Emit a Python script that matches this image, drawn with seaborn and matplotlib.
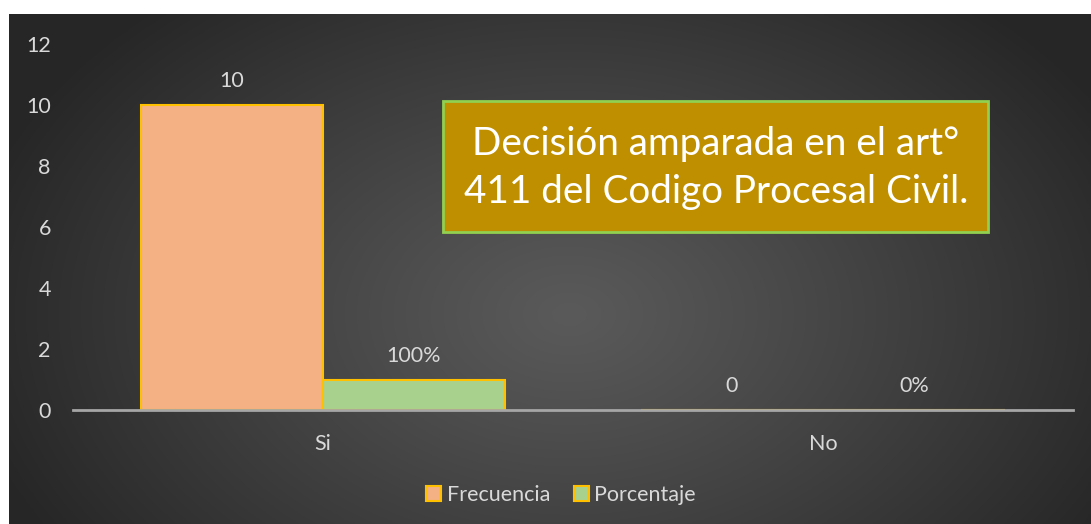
import numpy as np
import pandas as pd
import matplotlib
matplotlib.use("Agg")
import matplotlib.pyplot as plt
import seaborn as sns
from matplotlib.patches import Patch

categorias = ["Si", "No"]
frecuencia = [10, 0]
porcentaje = [1, 0]
etiquetas_frec = ["10", "0"]
etiquetas_porc = ["100%", "0%"]
series = ["Frecuencia", "Porcentaje"]
colores = ["#F4B183", "#A9D18E"]
titulo = "Decisión amparada en el art°\n411 del Codigo Procesal Civil."

sns.set_theme(style="white")
plt.rcParams['font.family'] = ['Lato', 'DejaVu Sans']

df = pd.DataFrame({
    "cat": categorias * 2,
    "valor": frecuencia + porcentaje,
    "serie": [series[0]] * 2 + [series[1]] * 2,
})

W, H = 1091, 524
fig = plt.figure(figsize=(W / 100, H / 100), dpi=100, facecolor="white")

# background with radial gradient
bg = fig.add_axes([9 / W, 0, 1 - 9 / W, 1 - 14 / H])
bg.set_axis_off()
yy, xx = np.mgrid[0:510, 0:1082]
cx, cy = 560, 300
r = np.sqrt(((xx - cx) / 620.0) ** 2 + ((yy - cy) / 420.0) ** 2)
r = np.clip(r, 0, 1)
c0, c1 = 0x5A / 255, 0x26 / 255
val = c0 + (c1 - c0) * r ** 1.1
img = np.dstack([val, val, val])
bg.imshow(img, aspect="auto", extent=[0, 1, 0, 1], origin="upper")
bg.set_xlim(0, 1)
bg.set_ylim(0, 1)

ax = fig.add_axes([73 / W, (H - 410) / H, 1000 / W, 366 / H])
ax.patch.set_alpha(0)
sns.barplot(data=df, x="cat", y="valor", hue="serie", palette=colores,
            width=0.728, edgecolor="#FFC000", linewidth=1.5, ax=ax,
            legend=False, saturation=1)
ax.set_xlim(-0.5, 1.5)
ax.set_ylim(0, 12)
ax.set_yticks(range(0, 13, 2))
ax.set_xlabel("")
ax.set_ylabel("")
for s in ["top", "right", "left"]:
    ax.spines[s].set_visible(False)
ax.spines["bottom"].set_color("#A6A6A6")
ax.spines["bottom"].set_linewidth(2)
ax.tick_params(axis="y", length=0, pad=16, labelsize=15.5, labelcolor="#D9D9D9")
ax.tick_params(axis="x", length=0, pad=17, labelsize=15.5, labelcolor="#D9D9D9")

ax.bar_label(ax.containers[0], labels=etiquetas_frec, padding=10,
             fontsize=15.5, color="#D9D9D9")
ax.bar_label(ax.containers[1], labels=etiquetas_porc, padding=10,
             fontsize=15.5, color="#D9D9D9")

# title box
fig.patches.append(matplotlib.patches.Rectangle(
    (443 / W, (H - 232) / H), 545 / W, 131 / H, transform=fig.transFigure,
    facecolor="#BF8F00", edgecolor="#92D050", linewidth=2, zorder=5))
fig.text(716 / W, (H - 168) / H, titulo, ha="center", va="center",
         fontsize=27.8, color="white", linespacing=1.38, zorder=6)

handles = [Patch(facecolor=c, edgecolor="#FFC000", linewidth=1.5) for c in colores]
fig.legend(handles, series, loc="center", bbox_to_anchor=(561 / W, (H - 495) / H),
           ncol=2, frameon=False, fontsize=15.5, labelcolor="#D9D9D9",
           handlelength=0.7, handleheight=0.7, handletextpad=0.25,
           columnspacing=1.1)

fig.savefig("out.png", dpi=100, facecolor="white")
